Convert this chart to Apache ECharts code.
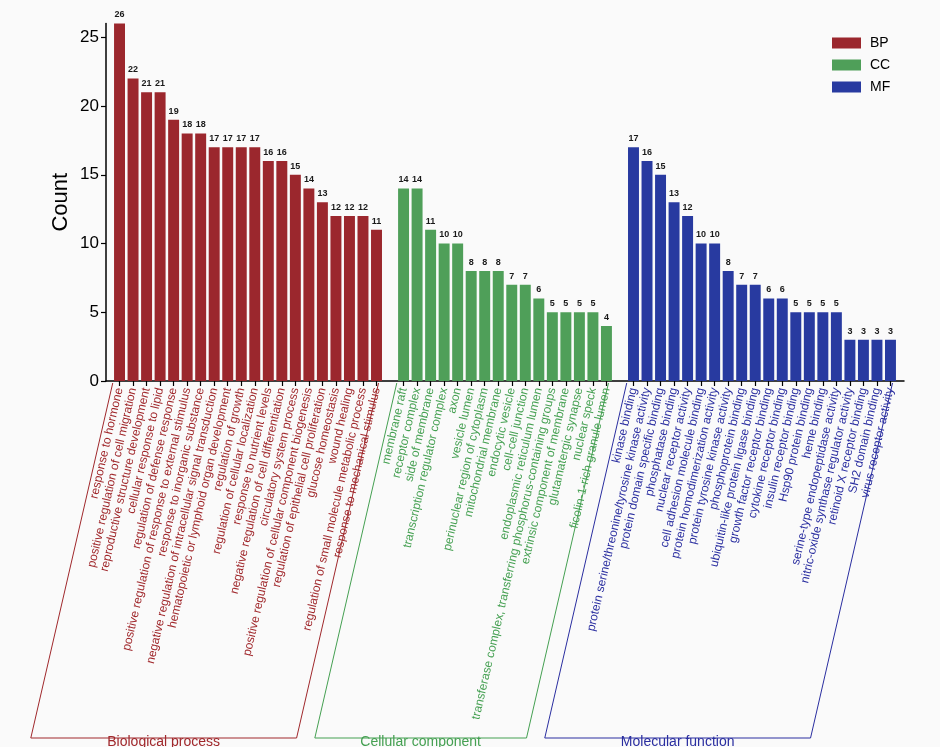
<!DOCTYPE html>
<html>
<head>
<meta charset="utf-8">
<script src="https://cdn.jsdelivr.net/npm/echarts@6/dist/echarts.min.js"></script>
<style>
html,body{margin:0;padding:0;background:#fafafa;}
#main{width:940px;height:747px;}
</style>
</head>
<body>
<div id="main"></div>
<script>
const bpTerms = ["response to hormone","positive regulation of cell migration","reproductive structure development","cellular response to lipid","regulation of defense response","positive regulation of response to external stimulus","response to inorganic substance","negative regulation of intracellular signal transduction","hematopoietic or lymphoid organ development","regulation of growth","regulation of cellular localization","response to nutrient levels","negative regulation of cell differentiation","circulatory system process","positive regulation of cellular component biogenesis","regulation of epithelial cell proliferation","glucose homeostasis","wound healing","regulation of small molecule metabolic process","response to mechanical stimulus"];
const bpCounts = [26,22,21,21,19,18,18,17,17,17,17,16,16,15,14,13,12,12,12,11];
const ccTerms = ["membrane raft","receptor complex","side of membrane","transcription regulator complex","axon","vesicle lumen","perinuclear region of cytoplasm","mitochondrial membrane","endocytic vesicle","cell-cell junction","endoplasmic reticulum lumen","transferase complex, transferring phosphorus-containing groups","extrinsic component of membrane","glutamatergic synapse","nuclear speck","ficolin-1-rich granule lumen"];
const ccCounts = [14,14,11,10,10,8,8,8,7,7,6,5,5,5,5,4];
const mfTerms = ["kinase binding","protein serine/threonine/tyrosine kinase activity","protein domain specific binding","phosphatase binding","nuclear receptor activity","cell adhesion molecule binding","protein homodimerization activity","protein tyrosine kinase activity","phosphoprotein binding","ubiquitin-like protein ligase binding","growth factor receptor binding","cytokine receptor binding","insulin receptor binding","Hsp90 protein binding","heme binding","serine-type endopeptidase activity","nitric-oxide synthase regulator activity","retinoid X receptor binding","SH2 domain binding","virus receptor activity"];
const mfCounts = [17,16,15,13,12,10,10,8,7,7,6,6,5,5,5,5,3,3,3,3];
const groupNames = ["BP","CC","MF"];
const groupTitles = ["Biological process","Cellular component","Molecular function"];
const yTicks = [0,5,10,15,20,25];

const barColors = ["#9b272d","#4f9f59","#283aa0"];
const textColors = ["#a0282c","#45a052","#2a2ea0"];

// build category axis with spacer slots
const groups = [[bpTerms,bpCounts],[ccTerms,ccCounts],[mfTerms,mfCounts]];
const categories = [];
const catGroup = [];
const ranges = [];
let sp = 0;
categories.push(' '.repeat(++sp)); catGroup.push(-1);
groups.forEach((g,gi)=>{
  const start = categories.length;
  g[0].forEach(t=>{categories.push(t); catGroup.push(gi);});
  ranges.push([start, categories.length-1]);
  categories.push(' '.repeat(++sp)); catGroup.push(-1);
});
const seriesData = groups.map((g,gi)=>{
  const arr = categories.map(()=>'-');
  g[1].forEach((v,i)=>{arr[ranges[gi][0]+i]=v;});
  return arr;
});

const FONT = 'Arial, "Liberation Sans", sans-serif';
const chart = echarts.init(document.getElementById('main'));
const option = {
  backgroundColor:'#fafafa',
  animation:false,
  textStyle:{fontFamily:FONT},
  legend:{
    orient:'vertical', left:832, top:36, padding:0, icon:'rect',
    itemWidth:29, itemHeight:11, itemGap:8,
    textStyle:{fontSize:14,color:'#000',fontFamily:FONT, padding:[0,0,0,4]},
    data:groupNames
  },
  grid:{left:106, right:36, top:23.5, bottom:366, containLabel:false},
  xAxis:{
    type:'category', data:categories, boundaryGap:false,
    axisLine:{lineStyle:{color:'#000',width:1.5}},
    axisTick:{length:5, lineStyle:{color:'#000',width:1.2},
      interval:(idx,val)=>catGroup[idx]>=0},
    axisLabel:{interval:0, rotate:77, fontSize:12, margin:7, fontFamily:FONT,
      color:(val,idx)=>{const g=catGroup[idx!==undefined?idx:categories.indexOf(val)]; return g>=0?textColors[g]:'#000';}},
    splitLine:{show:false}
  },
  yAxis:{
    type:'value', min:0, max:26,
    name:'Count', nameLocation:'middle', nameGap:34, nameMoveOverlap:false,
    nameTextStyle:{fontSize:22,color:'#000',fontFamily:FONT},
    axisLine:{show:true,lineStyle:{color:'#000',width:1.5}},
    axisTick:{show:true,length:5,lineStyle:{color:'#000',width:1.2},customValues:yTicks},
    axisLabel:{fontSize:17,color:'#000',margin:7,fontFamily:FONT,customValues:yTicks},
    splitLine:{show:false}
  },
  series:groupNames.map((n,gi)=>({
    name:n, type:'bar', stack:'all', barWidth:'81%',
    data:seriesData[gi],
    itemStyle:{color:barColors[gi]},
    label:{show:true, position:'top', distance:4, fontSize:9, fontWeight:'bold', color:'#1a1a1a', fontFamily:FONT}
  }))
};
chart.setOption(option);

// brackets below the labels, derived from axis positions
const step = chart.convertToPixel({xAxisIndex:0},1) - chart.convertToPixel({xAxisIndex:0},0);
const yTop = chart.convertToPixel({yAxisIndex:0},0) + 2;
const yBot = 738;
const slant = (yBot - yTop) / Math.tan(77*Math.PI/180);
const graphics = [];
ranges.forEach((r,gi)=>{
  const xl = chart.convertToPixel({xAxisIndex:0}, r[0]) - step*0.5;
  const xr = chart.convertToPixel({xAxisIndex:0}, r[1]) + step*0.15;
  graphics.push({
    type:'polyline', silent:true,
    shape:{points:[[xl,yTop],[xl-slant,yBot],[xr-slant,yBot],[xr,yTop]]},
    style:{stroke:textColors[gi], fill:null, lineWidth:1}
  });
  graphics.push({
    type:'text', silent:true,
    x:((xl-slant)+(xr-slant))/2, y:742,
    style:{text:groupTitles[gi], fill:textColors[gi], font:'14px '+FONT, align:'center', verticalAlign:'middle'}
  });
});
chart.setOption({graphic:graphics});
</script>
</body>
</html>
